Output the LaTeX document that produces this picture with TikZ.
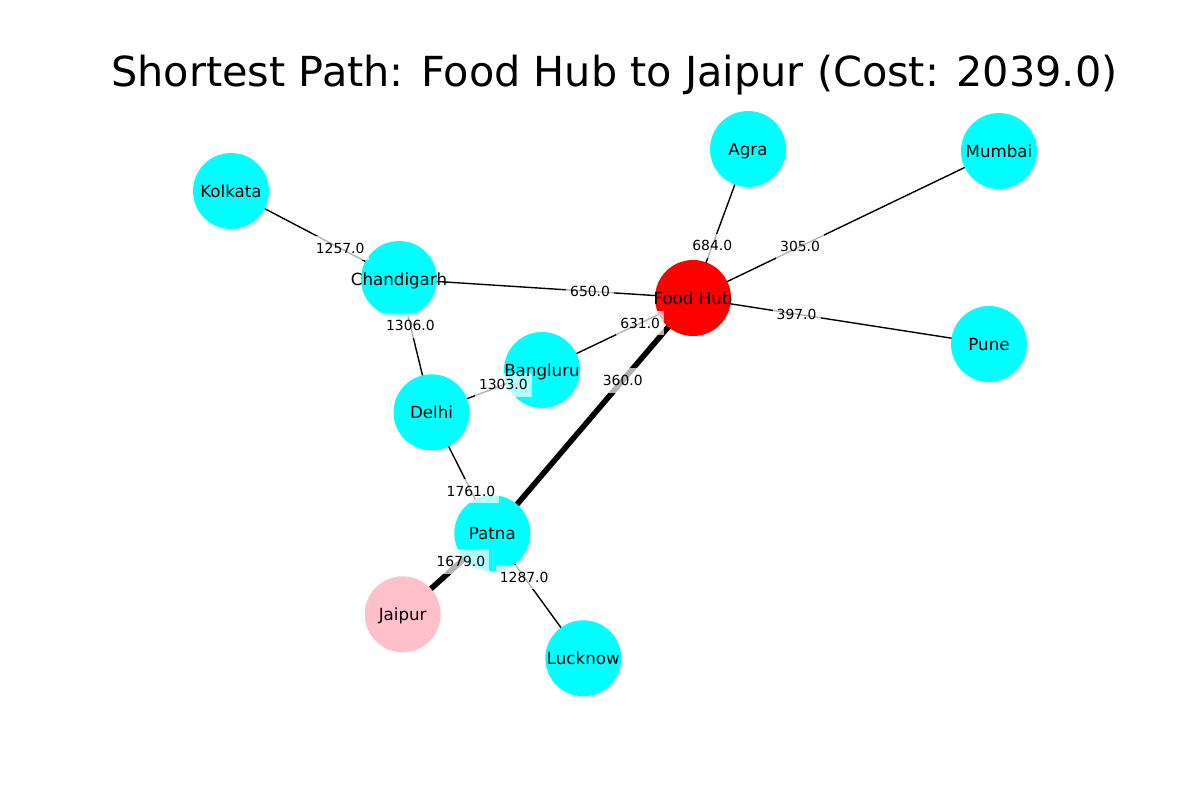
\documentclass[tikz,border=0pt]{standalone}
\usepackage{fontspec}
\setmainfont{DejaVu Sans}
\pgfdeclarelayer{bg}
\pgfsetlayers{bg,main}
\definecolor{nodecyan}{HTML}{00FFFF}
\definecolor{nodered}{HTML}{FF0000}
\definecolor{nodepink}{HTML}{FFC0CB}
\tikzset{
  city/.style={circle, fill=nodecyan, minimum size=54.72pt, inner sep=0pt},
  nlabel/.style={font=\fontsize{12}{14}\selectfont, text height=11.4pt, text depth=2.64pt, inner sep=0pt},
  edge/.style={draw=black, line width=1pt},
  pathedge/.style={draw=black, line width=4pt},
  elabel/.style={font=\fontsize{10}{12}\selectfont, fill=white, fill opacity=0.7, text opacity=1,
    inner xsep=3pt, inner ysep=3pt, text height=9.5pt, text depth=2.2pt},
  titlestyle/.style={font=\fontsize{29.8}{36}\selectfont, inner sep=0pt, anchor=base}
}
\begin{document}
\begin{tikzpicture}[x=0.72pt, y=-0.72pt]
\useasboundingbox (0,0) rectangle (1200,800);
\node[titlestyle] (title) at (614.5,86.7) {Shortest Path: Food Hub to Jaipur (Cost: 2039.0)};
% nodes
\node[city] (kol) at (231,191) {};
\node[city] (agra) at (748,149) {};
\node[city] (mum) at (999,151) {};
\node[city] (cha) at (399,279) {};
\node[city, fill=nodered] (fh) at (693,298) {};
\node[city] (pune) at (989,344) {};
\node[city] (ban) at (542,370) {};
\node[city] (del) at (431.5,412.3) {};
\node[city] (pat) at (492.3,533.3) {};
\node[city, fill=nodepink] (jai) at (402.7,614.3) {};
\node[city] (luc) at (583.3,658.3) {};
% edges
\begin{pgfonlayer}{bg}
\draw[edge] (kol.center) -- (cha.center);
\draw[edge] (cha.center) -- (fh.center);
\draw[edge] (fh.center) -- (agra.center);
\draw[edge] (fh.center) -- (mum.center);
\draw[edge] (fh.center) -- (pune.center);
\draw[edge] (fh.center) -- (ban.center);
\draw[pathedge] (fh.center) -- (pat.center);
\draw[edge] (cha.center) -- (del.center);
\draw[edge] (del.center) -- (ban.center);
\draw[edge] (del.center) -- (pat.center);
\draw[pathedge] (pat.center) -- (jai.center);
\draw[edge] (pat.center) -- (luc.center);
\end{pgfonlayer}
% edge labels
\path (kol.center) -- node[elabel, pos=0.65] (l1) {1257.0} (cha.center);
\path (cha.center) -- node[elabel, pos=0.65] (l2) {650.0} (fh.center);
\path (fh.center) -- node[elabel, pos=0.35] (l3) {684.0} (agra.center);
\path (fh.center) -- node[elabel, pos=0.35] (l4) {305.0} (mum.center);
\path (fh.center) -- node[elabel, pos=0.35] (l5) {397.0} (pune.center);
\path (fh.center) -- node[elabel, pos=0.35] (l6) {631.0} (ban.center);
\path (fh.center) -- node[elabel, pos=0.35] (l7) {360.0} (pat.center);
\path (cha.center) -- node[elabel, pos=0.35] (l8) {1306.0} (del.center);
\path (del.center) -- node[elabel, pos=0.65] (l9) {1303.0} (ban.center);
\path (del.center) -- node[elabel, pos=0.65] (l10) {1761.0} (pat.center);
\path (pat.center) -- node[elabel, pos=0.35] (l11) {1679.0} (jai.center);
\path (pat.center) -- node[elabel, pos=0.35] (l12) {1287.0} (luc.center);
% node labels on top
\node[nlabel] (kolt) at (kol) {Kolkata};
\node[nlabel] (agrat) at (agra) {Agra};
\node[nlabel] (mumt) at (mum) {Mumbai};
\node[nlabel] (chat) at (cha) {Chandigarh};
\node[nlabel] (fht) at (fh) {Food Hub};
\node[nlabel] (punet) at (pune) {Pune};
\node[nlabel] (bant) at (ban) {Bangluru};
\node[nlabel] (delt) at (del) {Delhi};
\node[nlabel] (patt) at (pat) {Patna};
\node[nlabel] (jait) at (jai) {Jaipur};
\node[nlabel] (luct) at (luc) {Lucknow};
\end{tikzpicture}
\end{document}
